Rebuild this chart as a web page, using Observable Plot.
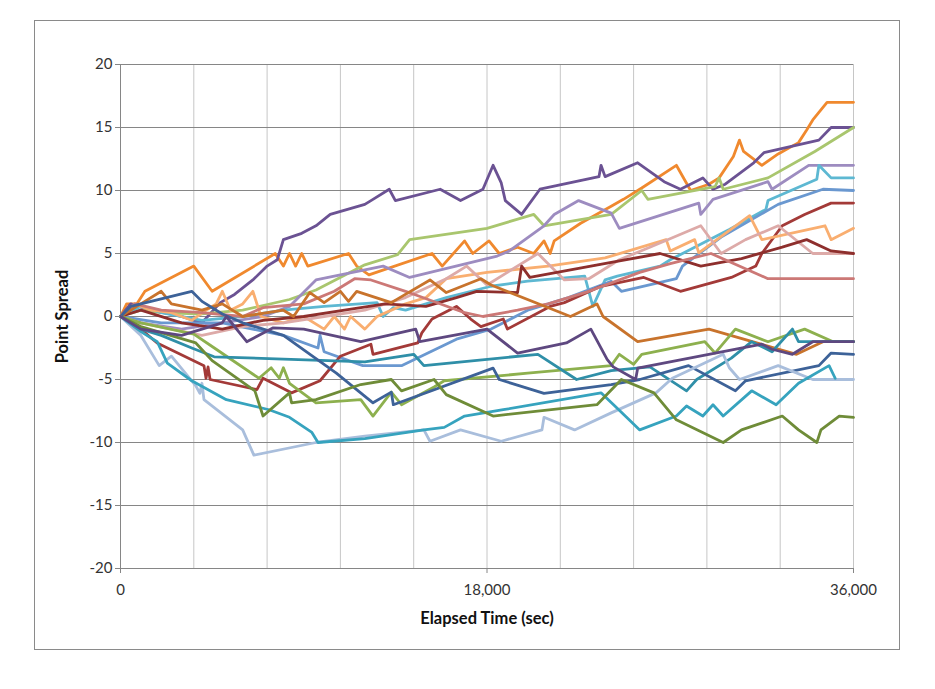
<!DOCTYPE html>
<html><head><meta charset="utf-8">
<script src="https://cdn.jsdelivr.net/npm/d3@7"></script>
<script src="https://cdn.jsdelivr.net/npm/@observablehq/plot@0.6"></script>
<style>
html,body{margin:0;padding:0;background:#fff;}
#wrap{position:relative;width:935px;height:689px;}
#border{position:absolute;left:34px;top:20px;width:866px;height:630px;border:1px solid #8a8a8a;box-sizing:border-box;pointer-events:none;}
svg{font-family:Lato,"Open Sans",sans-serif;}
</style></head><body><div id="wrap"><div id="border"></div></div>
<script>
// ---- data: [elapsed seconds, point spread] ----
const sA = [[0,0],[300,1],[800,1],[1200,2],[3600,4],[4500,2],[7600,5],[8000,4],[8300,5],[8600,4],[8900,5],[9200,4],[11200,5],[11600,4],[12200,3.3],[15300,5],[15800,4],[16900,6],[17300,5],[18100,6],[18600,5],[19500,5.5],[20300,5],[20800,6],[21100,5],[21300,6],[22600,7.4],[24100,8.75],[24700,9.3],[25600,10.2],[27300,12],[28000,10],[28900,10.5],[29400,11],[30100,12.7],[30400,14],[30600,13.1],[31500,12],[32300,12.9],[33300,13.8],[33700,14.8],[34000,15.6],[34300,16.2],[34700,17],[36000,17]];
const sB = [[0,0],[500,1],[1500,0.5],[3000,0],[4000,-0.5],[4900,1.1],[5600,1.75],[6500,2.9],[7200,4],[7700,4.5],[8000,6.1],[8900,6.6],[9600,7.2],[10300,8.1],[12000,8.9],[12400,9.3],[13200,10.1],[13500,9.2],[15700,10.1],[16700,9.2],[17800,10.1],[18300,12],[18700,10.6],[18900,9.2],[19700,8.1],[20600,10.1],[23500,11.1],[23600,12],[23800,11.1],[25400,12.2],[26700,10.7],[27500,10.1],[28600,11],[29100,10.1],[29700,10.5],[31100,12.2],[31600,13],[34300,14],[34900,15],[36000,15]];
const sC = [[0,0],[1000,0.5],[2000,0.3],[4000,0.2],[6000,0.5],[8300,1.35],[9600,2.1],[12000,4.1],[13600,4.9],[14200,6.1],[18000,7],[20300,8.1],[20800,7.2],[24100,8.1],[25600,10],[25900,9.3],[29200,10.3],[29400,11],[29600,10.1],[31800,11],[34100,13.1],[36000,15]];
const sD = [[0,0],[1000,-0.5],[3000,-1],[5000,-0.5],[7000,0],[8300,0.8],[9600,2.9],[12000,3.7],[12900,4],[14200,3.1],[18500,4.8],[19100,5.2],[20800,7.2],[21300,8.1],[22500,9.2],[24100,8.2],[24500,7],[28400,9],[28500,8.1],[29100,9.3],[31800,10.7],[32000,10.1],[33800,12],[36000,12]];
const sE = [[0,0],[1000,0.8],[2000,0.3],[4000,-0.3],[6000,0],[8000,0.5],[10000,0.8],[12600,1.1],[12900,0],[13400,0.7],[14000,0.5],[16000,1.5],[18200,2.4],[20000,2.8],[22800,3.2],[23200,0.8],[23800,2.9],[24400,3.2],[26500,4],[27000,4.5],[29900,6.9],[31700,8.5],[31800,9.2],[34200,10.9],[34300,12],[34900,11],[36000,11]];
const sF = [[0,0],[2000,-0.5],[5000,-0.5],[8000,-1.5],[9700,-2.5],[9800,-1.5],[10000,-2.8],[11900,-3.9],[13800,-3.9],[16500,-1.8],[18200,-1],[20000,0.5],[22000,1.5],[24100,2.8],[24600,2],[27300,3],[27600,4],[29500,6.3],[32300,8.9],[34500,10.1],[36000,10]];
const sG = [[0,0],[1000,-1],[1800,-2.1],[4100,-3.9],[4200,-4.9],[4300,-4],[4400,-5],[6700,-5.8],[7000,-4.9],[8400,-6.06],[9800,-5.1],[10800,-3.15],[12300,-2.2],[12400,-3],[14600,-2.1],[14800,-1.3],[15300,-0.2],[16500,0.8],[17200,-0.2],[17700,-0.8],[18800,-0.2],[19000,-1],[21100,0.8],[21800,1.1],[23600,2.4],[25700,3.1],[27500,2],[30000,3.1],[31200,4],[31500,5],[32500,7.2],[33600,8.1],[34900,9],[36000,9]];
const sH = [[0,0],[700,1],[1500,0.5],[2500,0.3],[3500,-0.3],[4200,0.5],[4700,1],[5000,2],[5400,0.5],[6000,1],[6500,2],[6900,0],[8000,-0.5],[9000,0],[10000,-1],[10500,0],[11000,-1],[11300,0],[12000,-1],[12600,0],[14000,1],[15000,1.5],[16000,3],[18000,3.5],[21000,4],[23800,4.65],[26800,6.1],[27000,5.2],[28200,6.1],[28400,5.05],[30900,8],[31500,6.1],[34600,7.2],[34900,6.1],[36000,7]];
const sI = [[0,0],[1000,-0.5],[4000,-1.5],[6000,-0.8],[8000,-0.5],[10000,0],[12000,0.5],[14000,1.5],[16000,3],[17000,4],[18000,2.5],[19000,3.5],[20500,5],[21800,2.9],[23000,3],[24500,4.5],[26000,5.5],[28500,7.2],[29500,5],[30700,6.1],[32300,7.2],[34000,5],[36000,5]];
const sJ = [[0,0],[1000,0.5],[3000,-0.5],[5000,-1],[7000,-0.3],[9000,0],[11000,0.5],[13000,1],[15000,0.8],[16500,1.5],[17500,2],[19500,1.9],[19700,4],[20100,3.1],[24100,4.3],[26500,5],[28500,4],[30500,4.6],[32500,5.5],[33700,6.1],[34900,5.2],[36000,5]];
const sK = [[0,0],[700,1],[2000,0.5],[4000,0.3],[6000,0],[7000,0.7],[9000,1],[10500,2],[11500,3],[12300,2.9],[14000,2],[16900,0.3],[17800,0],[19500,0.5],[21000,1],[23000,2],[25500,3.5],[27000,4.2],[29000,5],[31800,3],[36000,3]];
const sL = [[0,0],[1000,1],[2000,2],[2500,1],[4000,0.5],[5000,1],[6000,0],[8000,0.5],[8500,0],[9300,1.9],[10000,1.1],[10800,2],[11200,1.2],[11600,2],[13300,1.1],[15200,2.9],[16000,1.9],[17700,3],[18200,2.5],[22100,0],[23400,1],[23700,0],[25400,-2],[28900,-1],[33200,-3],[34500,-2],[36000,-2]];
const sM = [[0,0],[1000,-0.5],[3600,-1.4],[4700,-2.6],[6800,-4.9],[7400,-4.07],[7800,-4.9],[8000,-4.07],[8300,-5.3],[9600,-6.85],[11800,-6.6],[12400,-7.9],[13300,-6],[13800,-7],[15400,-5.6],[15900,-5.1],[20000,-4.5],[24100,-3.9],[24500,-3],[25200,-3.8],[25600,-3],[28700,-2],[29200,-2.9],[30200,-1],[31800,-2],[33600,-1],[35000,-2],[36000,-2]];
const sN = [[0,0],[1000,-1],[2000,-1.5],[3500,-2.5],[4600,-3.2],[12000,-3.6],[14400,-3],[14900,-3.9],[20500,-3],[22400,-5],[24100,-4.3],[26000,-4],[27800,-5.9],[28300,-5],[30000,-3.3],[31000,-2],[32000,-2.8],[33000,-1],[33300,-2],[36000,-2]];
const sO = [[0,0],[500,0.8],[1000,1],[3500,2],[4000,1.2],[5000,0.2],[6000,-0.5],[8000,-1.5],[10600,-4.5],[12400,-6.85],[13300,-6],[13400,-7],[18300,-4.1],[18600,-5],[20800,-6.1],[24100,-5.4],[25500,-5],[27900,-3.9],[30200,-5.9],[30700,-5.1],[34300,-3.9],[34900,-2.9],[36000,-3]];
const sP = [[0,0],[1000,-1.5],[1900,-3.9],[2500,-3.15],[3700,-5.5],[3900,-6.1],[4000,-5.3],[4100,-6.6],[6000,-9],[6550,-11],[9600,-10],[12000,-9.5],[14900,-9],[15200,-9.9],[16700,-9],[18700,-9.9],[20700,-9],[20800,-8],[22300,-9],[24100,-7.65],[26300,-6.06],[27100,-4.9],[29600,-3],[29900,-4.07],[30400,-5],[32300,-3.9],[34000,-5],[36000,-5]];
const sQ = [[0,0],[1000,-1.2],[1800,-2],[2300,-3.7],[3500,-5.1],[5200,-6.6],[7300,-7.4],[8300,-8],[9400,-9.2],[9700,-10],[12000,-9.7],[14900,-9],[15900,-8.8],[16900,-7.9],[18800,-7.4],[23600,-6.06],[24600,-7.6],[25500,-9],[27300,-7.9],[27800,-7.1],[28600,-7.9],[29100,-7],[29600,-7.9],[31000,-5.9],[32200,-7],[33300,-5.3],[34800,-3.9],[35100,-4.9]];
const sR = [[0,0],[1000,-0.8],[3700,-2.1],[4500,-3.5],[6600,-5.9],[7000,-7.9],[8300,-6.06],[8400,-6.85],[9600,-6.6],[11800,-5.4],[13300,-5],[13800,-5.9],[15400,-5],[16000,-6.2],[18300,-7.9],[23400,-7],[24600,-5],[26200,-6.06],[27300,-8.2],[29600,-10],[30500,-9],[32500,-7.9],[33300,-9],[34200,-10],[34400,-9],[35300,-7.9],[36000,-8]];
const sS = [[0,0],[1000,-1],[3000,-1.5],[5000,-0.5],[5200,0],[6200,-2],[7500,-0.9],[9000,-1],[11800,-2],[14500,-1],[14700,-2],[18000,-1],[19500,-2.9],[21900,-2.1],[23100,-1],[23900,-3.4],[24200,-4],[25300,-5],[25400,-4.1],[31500,-2.2],[32000,-2.6],[33000,-3],[34000,-2],[36000,-2]];

const seriesNames = ["A","B","C","D","E","F","G","H","I","J","K","L","M","N","O","P","Q","R","S"];
const seriesData  = [sA,sB,sC,sD,sE,sF,sG,sH,sI,sJ,sK,sL,sM,sN,sO,sP,sQ,sR,sS];
const seriesColors = ["#F0892E","#6B5293","#A9C66E","#9D8CC0","#5DB8D2","#6A98D0","#A33A38","#F9AE70","#DDAAA8","#8E2F2D","#CC7876","#C8732C","#8DB04E","#2F8FA8","#3D6298","#A9BEDC","#36A3BE","#6F8C38","#5E4880"];

const xTicks = [0,18000,36000];
const xGrid = [3600,7200,10800,14400,18000,21600,25200,28800,32400,36000];
const yTicks = [-20,-15,-10,-5,0,5,10,15,20];
const xTitle = "Elapsed Time (sec)";
const yTitle = "Point Spread";

const table = seriesNames.flatMap((name,i) => seriesData[i].map(([t,v]) => ({name, t, v})));

const chart = Plot.plot({
  width: 935, height: 689,
  marginLeft: 120, marginRight: 82, marginTop: 64, marginBottom: 121,
  style: {fontSize: "15px", fontFamily: "Lato, 'Open Sans', sans-serif", color: "#333", background: "transparent"},
  x: {domain: [0,36000]},
  y: {domain: [-20,20]},
  color: {domain: seriesNames, range: seriesColors},
  marks: [
    Plot.ruleX(xGrid, {stroke: "#c6c6c6", strokeWidth: 1}),
    Plot.ruleY(yTicks, {stroke: "#868686", strokeWidth: 1}),
    Plot.ruleX([0], {stroke: "#868686", strokeWidth: 1}),
    Plot.line(table, {x: "t", y: "v", z: "name", stroke: "name", strokeWidth: 2.8, strokeLinejoin: "round", strokeLinecap: "round"}),
    Plot.axisY(yTicks, {tickSize: 5, tickPadding: 3, stroke: "#868686", label: null, fill: "#333", tickFormat: d => String(d)}),
    Plot.axisX(xTicks, {tickSize: 5, tickPadding: 11, stroke: "#868686", label: null, fill: "#333", tickFormat: d3.format(",")}),
    Plot.text([xTitle], {frameAnchor: "bottom", dy: 55, fontWeight: "bold", fontSize: 16.5, fill: "#111"}),
    Plot.text([yTitle], {frameAnchor: "left", dx: -58, rotate: -90, textAnchor: "middle", fontWeight: "bold", fontSize: 16.5, fill: "#111"})
  ]
});
document.getElementById("wrap").prepend(chart);
</script></body></html>
